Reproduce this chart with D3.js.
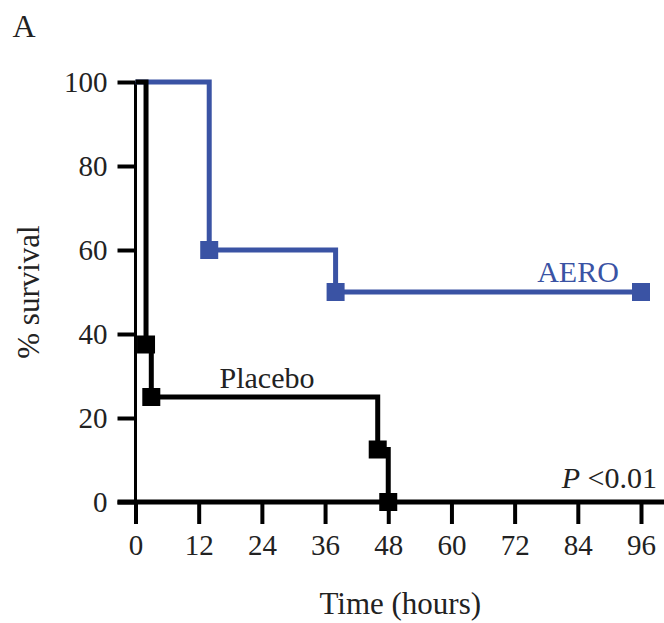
<!DOCTYPE html>
<html>
<head>
<meta charset="utf-8">
<script src="https://cdn.jsdelivr.net/npm/d3@7"></script>
<style>
  body { margin: 0; background: #fff; }
  text { font-family: "Liberation Serif", "Times New Roman", serif; }
</style>
</head>
<body>
<script>
// survival data (hours, % survival)
var aeroTimes = [0, 14, 38, 96],
    aeroSurv = [100, 60, 50, 50];
var aeroMarkT = [14, 38, 96],
    aeroMarkS = [60, 50, 50];

var placeboTimes = [0, 2, 3, 46, 48],
    placeboSurv = [100, 37.5, 25, 12.5, 0];
var placeboMarkT = [2, 3, 46, 48],
    placeboMarkS = [37.5, 25, 12.5, 0];

var xTicks = [0, 12, 24, 36, 48, 60, 72, 84, 96],
    yTicks = [0, 20, 40, 60, 80, 100];

var blue = "#3a53a4";

var W = 664, H = 623;
var margin = {left: 135.5, top: 82, right: 23, bottom: 121};

var svg = d3.select("body").append("svg")
    .attr("width", W)
    .attr("height", H);

var x = d3.scaleLinear().domain([0, 96]).range([margin.left, W - margin.right]);
var y = d3.scaleLinear().domain([0, 100]).range([H - margin.bottom, margin.top]);

// y axis
var yAx = svg.append("g")
    .attr("transform", "translate(" + margin.left + ",0)")
    .call(d3.axisLeft(y).tickValues(yTicks).tickSize(18).tickPadding(10));
yAx.select(".domain").remove();
yAx.selectAll(".tick line").attr("stroke", "#000").attr("stroke-width", 4);
yAx.selectAll(".tick text").attr("font-size", 29).attr("fill", "#222")
    .style("font-family", "Liberation Serif");
svg.append("line")
    .attr("x1", x(0)).attr("x2", x(0))
    .attr("y1", y(100)).attr("y2", y(0))
    .attr("stroke", "#000").attr("stroke-width", 3);

// x axis
var xAx = svg.append("g")
    .attr("transform", "translate(0," + y(0) + ")")
    .call(d3.axisBottom(x).tickValues(xTicks).tickSize(22).tickPadding(10));
xAx.select(".domain").remove();
xAx.selectAll(".tick line").attr("stroke", "#000").attr("stroke-width", 4);
xAx.selectAll(".tick text").attr("font-size", 29).attr("fill", "#222")
    .style("font-family", "Liberation Serif");
svg.append("line")
    .attr("x1", x(0) - 18).attr("x2", W)
    .attr("y1", y(0)).attr("y2", y(0))
    .attr("stroke", "#000").attr("stroke-width", 5);

var line = d3.line()
    .x(function (d) { return x(d[0]); })
    .y(function (d) { return y(d[1]); })
    .curve(d3.curveStepAfter);

// AERO curve
svg.append("path")
    .datum(d3.zip(aeroTimes, aeroSurv))
    .attr("d", line)
    .attr("fill", "none")
    .attr("stroke", blue)
    .attr("stroke-width", 5);
svg.selectAll(null)
    .data(d3.zip(aeroMarkT, aeroMarkS))
    .enter().append("rect")
    .attr("x", function (d) { return x(d[0]) - 9; })
    .attr("y", function (d) { return y(d[1]) - 9; })
    .attr("width", 18).attr("height", 18)
    .attr("fill", blue);

// placebo curve
svg.append("path")
    .datum(d3.zip(placeboTimes, placeboSurv))
    .attr("d", line)
    .attr("fill", "none")
    .attr("stroke", "#000")
    .attr("stroke-width", 5);
svg.selectAll(null)
    .data(d3.zip(placeboMarkT, placeboMarkS))
    .enter().append("rect")
    .attr("x", function (d) { return x(d[0]) - 9; })
    .attr("y", function (d) { return y(d[1]) - 9; })
    .attr("width", 18).attr("height", 18)
    .attr("fill", "#000");

// labels
svg.append("text").attr("x", 578).attr("y", 282).attr("text-anchor", "middle")
    .attr("font-size", 30).attr("fill", blue).text("AERO");
svg.append("text").attr("x", 267).attr("y", 388).attr("text-anchor", "middle")
    .attr("font-size", 30).attr("fill", "#222").text("Placebo");
var p = svg.append("text").attr("x", 657).attr("y", 488).attr("text-anchor", "end")
    .attr("font-size", 30).attr("fill", "#222");
p.append("tspan").attr("font-style", "italic").text("P");
p.append("tspan").text(" <0.01");

svg.append("text").attr("x", 24).attr("y", 37).attr("text-anchor", "middle")
    .attr("font-size", 32).attr("fill", "#222").text("A");

svg.append("text").attr("x", (x(0) + x(96)) / 2 + 12).attr("y", 614).attr("text-anchor", "middle")
    .attr("font-size", 31).attr("fill", "#222").text("Time (hours)");

svg.append("text")
    .attr("transform", "translate(39," + 292 + ") rotate(-90)")
    .attr("text-anchor", "middle")
    .attr("font-size", 31).attr("fill", "#222").text("% survival");
</script>
</body>
</html>
